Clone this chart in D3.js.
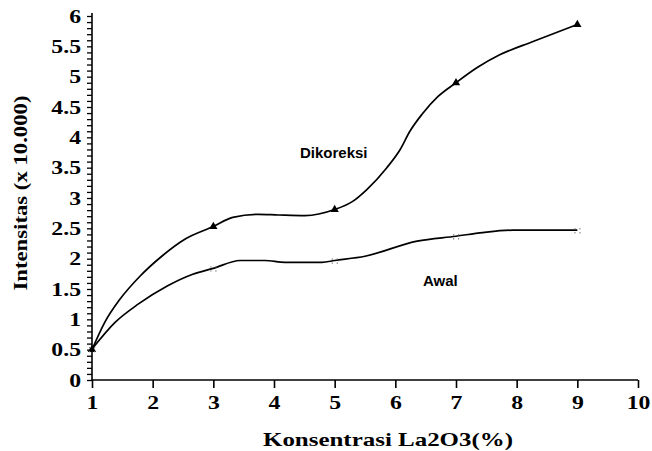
<!DOCTYPE html>
<html>
<head>
<meta charset="utf-8">
<script src="https://cdn.jsdelivr.net/npm/d3@7"></script>
<style>
  body { margin: 0; background: #fff; }
  svg { display: block; }
</style>
</head>
<body>
<svg id="chart" width="652" height="451"></svg>
<script>
// readings taken along the curves
const dikoreksiX = [1, 1.21, 1.46, 1.79, 2.15, 2.53, 3, 3.32, 3.74, 4.07, 4.51, 5, 5.29, 5.53, 5.86, 6.08, 6.24, 6.44, 6.7, 7, 7.35, 7.72, 8.27, 9];
const dikoreksiY = [0.5, 0.95, 1.33, 1.71, 2.04, 2.32, 2.53, 2.68, 2.73, 2.72, 2.71, 2.81, 2.94, 3.14, 3.5, 3.8, 4.1, 4.38, 4.67, 4.9, 5.15, 5.36, 5.58, 5.86];
const awalX = [1, 1.38, 1.76, 2.24, 2.65, 3, 3.44, 3.85, 4.18, 4.79, 5, 5.5, 6.36, 7, 7.44, 7.94, 9];
const awalY = [0.51, 0.95, 1.25, 1.55, 1.74, 1.84, 1.97, 1.97, 1.94, 1.94, 1.97, 2.04, 2.29, 2.37, 2.43, 2.47, 2.47];
const markerX = [1, 3, 5, 7, 9];
const xTicks = [1, 2, 3, 4, 5, 6, 7, 8, 9, 10];
const yTicks = [0, 0.5, 1, 1.5, 2, 2.5, 3, 3.5, 4, 4.5, 5, 5.5, 6];

const svg = d3.select("#chart");

const x = d3.scaleLinear().domain([1, 10]).range([92, 638]);
const y = d3.scaleLinear().domain([0, 6]).range([380, 16]);

const serif = "'Liberation Serif', 'Times New Roman', serif";
const sans = "'Liberation Sans', Arial, sans-serif";
const stretch = 1.25; // the scanned text is wider than plain Times

// x axis
const xAxis = svg.append("g")
  .attr("transform", `translate(0,${y(0)})`)
  .call(d3.axisBottom(x).tickValues(xTicks).tickSize(8).tickPadding(8).tickFormat(d3.format("d")));
xAxis.select(".domain").attr("stroke", "#000").attr("stroke-width", 1.6)
  .attr("d", `M${x(1)},0H${x(10)}`);
xAxis.selectAll(".tick line").attr("stroke", "#000").attr("stroke-width", 1.6);
xAxis.selectAll(".tick text")
  .attr("transform", `scale(${stretch},1)`)
  .attr("font-family", serif).attr("font-weight", "bold").attr("font-size", 19).attr("fill", "#000");

// y axis: minor ticks every 0.1, labels every 0.5
const yAxis = svg.append("g")
  .attr("transform", `translate(${x(1)},0)`)
  .call(d3.axisLeft(y).ticks(60).tickSize(5).tickFormat(""));
yAxis.select(".domain").attr("stroke", "#000").attr("stroke-width", 1.6)
  .attr("d", `M0,13V${y(0)}`);
yAxis.selectAll(".tick line").attr("stroke", "#000").attr("stroke-width", 1.3);

svg.append("g")
  .selectAll("text")
  .data(yTicks)
  .join("text")
  .attr("transform", d => `translate(81,${y(d)}) scale(${stretch},1)`)
  .attr("dy", "0.35em")
  .attr("text-anchor", "end")
  .attr("font-family", serif).attr("font-weight", "bold").attr("font-size", 19)
  .text(d => d);

// axis titles
svg.append("text")
  .attr("x", 388).attr("y", 446)
  .attr("text-anchor", "middle")
  .attr("textLength", 250).attr("lengthAdjust", "spacingAndGlyphs")
  .attr("font-family", serif).attr("font-weight", "bold").attr("font-size", 19)
  .text("Konsentrasi La2O3(%)");

svg.append("text")
  .attr("transform", "translate(27,193) rotate(-90)")
  .attr("text-anchor", "middle")
  .attr("textLength", 195).attr("lengthAdjust", "spacingAndGlyphs")
  .attr("font-family", serif).attr("font-weight", "bold").attr("font-size", 18)
  .text("Intensitas (x 10.000)");

// curves
const line = d3.line()
  .x(d => x(d[0]))
  .y(d => y(d[1]))
  .curve(d3.curveMonotoneX);

const dikoreksi = dikoreksiX.map((v, i) => [v, dikoreksiY[i]]);
const awal = awalX.map((v, i) => [v, awalY[i]]);

svg.append("g")
  .attr("fill", "none")
  .attr("stroke", "#000")
  .attr("stroke-width", 1.7)
  .selectAll("path")
  .data([awal, dikoreksi])
  .join("path")
  .attr("d", line);

// triangle markers on Dikoreksi
svg.append("g")
  .selectAll("path")
  .data(dikoreksi.filter(d => markerX.includes(d[0])))
  .join("path")
  .attr("transform", d => `translate(${x(d[0])},${y(d[1])})`)
  .attr("d", d3.symbol(d3.symbolTriangle, 30))
  .attr("fill", "#000");

// faint dotted markers on Awal
const dots = [[-3, -2], [2, -2], [-3, 2], [2, 2]];
svg.append("g")
  .selectAll("g")
  .data(awal.filter(d => markerX.includes(d[0])))
  .join("g")
  .attr("transform", d => `translate(${x(d[0])},${y(d[1])})`)
  .selectAll("rect")
  .data(dots)
  .join("rect")
  .attr("x", d => d[0]).attr("y", d => d[1])
  .attr("width", 1.2).attr("height", 1.2)
  .attr("fill", "#777");

// series labels
svg.append("text")
  .attr("x", 300).attr("y", 158)
  .attr("font-family", sans).attr("font-weight", "bold").attr("font-size", 15)
  .text("Dikoreksi");

svg.append("text")
  .attr("x", 423).attr("y", 286)
  .attr("font-family", sans).attr("font-weight", "bold").attr("font-size", 15)
  .text("Awal");
</script>
</body>
</html>
